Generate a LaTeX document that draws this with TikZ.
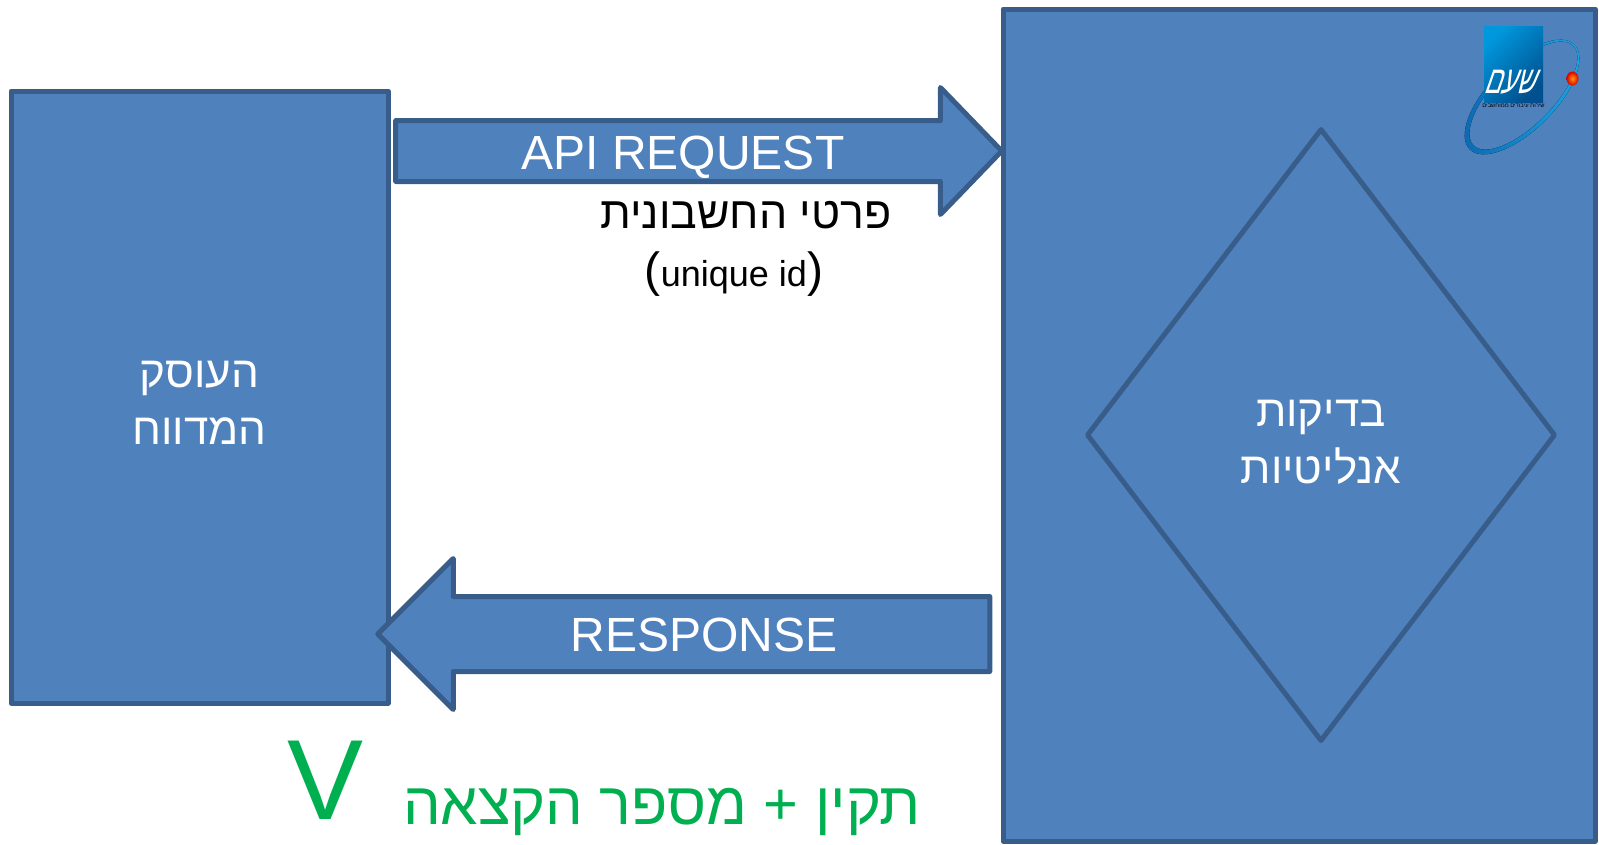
\documentclass[tikz,border=0pt]{standalone}
\usepackage{fontspec}
\setmainfont{Liberation Sans}
\newfontfamily\hebfont[Script=Hebrew]{Liberation Sans}
\TeXXeTstate=1
\usetikzlibrary{positioning}
\usetikzlibrary{shapes.geometric}
\usetikzlibrary{shapes.arrows}
\definecolor{boxfill}{HTML}{4F81BD}
\definecolor{boxline}{HTML}{385D8A}
\definecolor{okgreen}{HTML}{00B050}
\definecolor{ringdark}{HTML}{0B66B0}
\definecolor{ringlight}{HTML}{1BA8E6}
\definecolor{logotop}{HTML}{0098DC}
\definecolor{logobottom}{HTML}{00508F}
\newcommand{\heb}[1]{{\hebfont\beginR #1\endR}}
\tikzset{x = 1pt, y = -1pt,
  block/.style = {draw = boxline, fill = boxfill, line width = 5pt, line join = round, inner sep = 0pt},
  blockarrow/.style = {single arrow, block, single arrow head indent = 0pt},
  title/.style = {text = white, align = center, inner sep = 0pt, font = \fontsize{44}{57}\selectfont},
  caption/.style = {inner sep = 0pt, font = \fontsize{48}{48}\selectfont}}

\begin{document}
\begin{tikzpicture}
  \useasboundingbox (0,0) rectangle (1599,844);
  % nodes
  \node [block, minimum width = 377pt, minimum height = 612pt] (issuer) at (199.5,397) {};
  \node [block, minimum width = 592pt, minimum height = 832pt] (tax) at (1299,425) {};
  \node [block, diamond, minimum width = 469pt, minimum height = 613pt] (checks) at (1321,435) {};
  \node [blockarrow, inner ysep = 28pt, single arrow head extend = 33pt, single arrow tip angle = 92,
    minimum height = 606pt] (request) at (684,151) {};
  \node [blockarrow, inner ysep = 35pt, single arrow head extend = 38pt, single arrow tip angle = 90,
    shape border rotate = 180, minimum height = 612pt] (response) at (702.5,634) {};
  % labels
  \node [title, yshift = -6pt] (issuertext) at (issuer.center) {\heb{העוסק}\\\heb{המדווח}};
  \node [title, yshift = -7.5pt] (checkstext) at (checks.center) {\heb{בדיקות}\\\heb{אנליטיות}};
  \node [caption, text = white, xshift = -1pt, yshift = -6pt] (requesttext) at (request.center) {API REQUEST};
  \node [caption, text = white, xshift = 1.5pt, yshift = -1pt] (responsetext) at (response.center) {RESPONSE};
  \node [caption, font = \fontsize{44.6}{45}\selectfont] (account) at (746,215) {\heb{פרטי החשבונית}};
  \node [inner sep = 0pt, font = \fontsize{36}{36}\selectfont] (uniqueid) at (734,274)
    {{\fontsize{48}{48}\selectfont(}unique id{\fontsize{48}{48}\selectfont)}};
  \node [caption, text = okgreen, font = \fontsize{59.5}{60}\selectfont] (valid) at (662,812) {\heb{תקין + מספר הקצאה}};
  \node [inner sep = 0pt, text = okgreen, font = \fontsize{114}{114}\selectfont] (check) at (326,780) {V};
  % logo
  \fill [rotate around = {45:(1522,97)}, even odd rule, left color = ringdark, right color = ringlight]
    (1522,97) ellipse [x radius = 74, y radius = 33]
    (1524,97) ellipse [x radius = 70.5, y radius = 29.5];
  \node [inner sep = 0pt, minimum width = 59pt, minimum height = 76pt, shading = axis, left color = logotop,
    right color = logobottom, shading angle = 45] (logo) at (1513.5,64) {};
  \node [inner sep = 0pt, text = white, xslant = 0.35, yscale = 1.5, transform shape, font = \fontsize{26}{26}\selectfont] (logotext) at (1513,82) {\heb{שעם}};
  \node [inner sep = 0pt, below = 1.5pt of logo.south, font = \fontsize{5.8}{7}\selectfont] (logosub) {\heb{שירות עיבודים ממוחשבים}};
  \node [ellipse, inner sep = 0pt, minimum width = 12pt, minimum height = 14pt, shading = radial, inner color = orange!80!yellow,
    outer color = red!85!black] (logoball) at (1572.5,78.5) {};
\end{tikzpicture}
\end{document}
